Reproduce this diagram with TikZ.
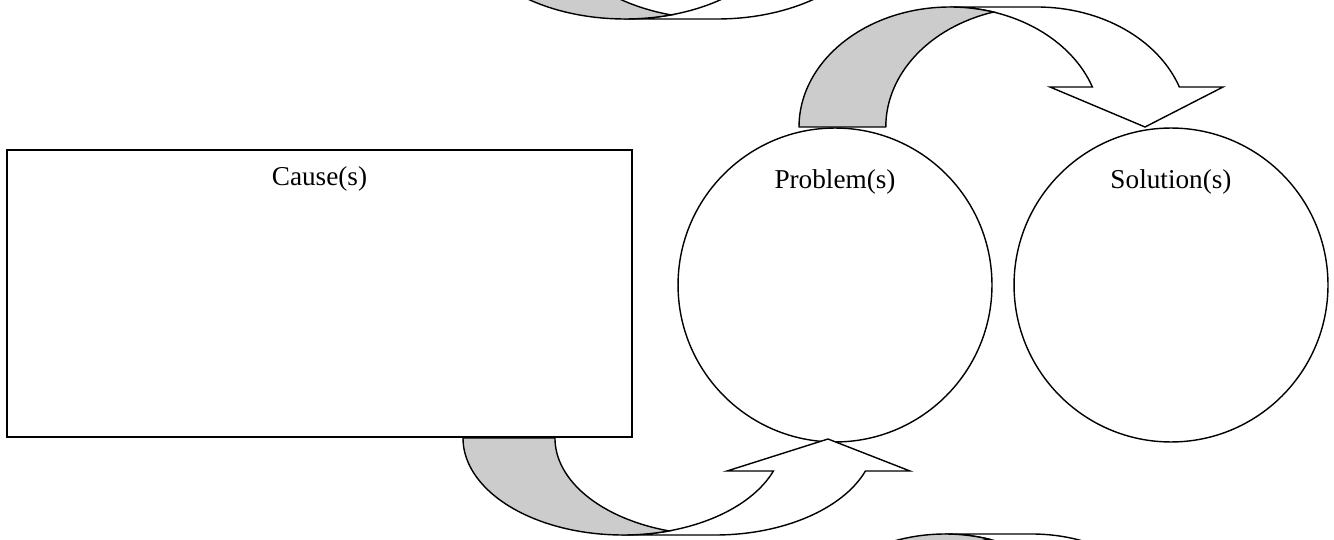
\documentclass[tikz,border=0pt]{standalone}
\usepackage{fontspec}
\setmainfont{Liberation Serif}
\usepackage{tikz}
\usetikzlibrary{positioning}
\definecolor{shade}{rgb}{0.8,0.8,0.8}

\begin{document}
\begin{tikzpicture}[
            x = 0.02cm, y = 0.02cm, % one unit = one pixel
            line join = miter,
            semithick
        ]

        \tikzstyle{box}=[draw, line width = 1pt, rectangle,
            minimum width = 12.5cm, minimum height = 5.74cm, inner sep = 0pt]
        \tikzstyle{blob}=[draw, line width = 0.8pt, circle,
            minimum size = 6.28cm, inner sep = 0pt]
        \tikzstyle{caption}=[inner sep = 0pt, font = \fontsize{15.5}{18}\selectfont]
        \tikzstyle{band}=[draw, line width = 0.8pt]

        \useasboundingbox (0,0) rectangle (1334,-540);
        \clip (0,0) rectangle (1334,-540);

        % boxes
        \node[box] (C) at (319.5,-293.5) {};
        \node[caption] (CT) [below = 0.34cm of C.north] {Cause(s)};

        \node[blob] (P) at (835,-285) {};
        \node[caption] (PT) [below = 0.84cm of P.north] {Problem(s)};

        \node[blob] (S) at (1171,-285) {};
        \node[caption] (ST) [below = 0.84cm of S.north] {Solution(s)};

        % curved arrows, pointing down
        \foreach \sx/\sy in {0/0, -5/-527} {
          \begin{scope}[shift = {(\sx,\sy)}]
            % front band
            \path[band, fill = white] (950,-7) -- (1037,-7)
              arc[start angle = 90, end angle = 19.47, x radius = 151, y radius = 120]
              -- (1223,-87) -- (1145,-127) -- (1050,-87) -- (1092.4,-87)
              arc[start angle = 19.47, end angle = 90, x radius = 151, y radius = 120]
              -- cycle;
            % back band
            \path[band, fill = shade] (799,-127)
              arc[start angle = 180, end angle = 73.3, x radius = 151, y radius = 120]
              arc[start angle = 106.7, end angle = 180, x radius = 151, y radius = 120]
              -- cycle;
          \end{scope}
        }

        % curved arrows, pointing up
        \foreach \sx/\sy in {0/0, 2/516} {
          \begin{scope}[shift = {(\sx,\sy)}]
            % front band
            \path[band, fill = white] (623,-535) -- (715,-535)
              arc[start angle = 270, end angle = 340.1, x radius = 160, y radius = 97]
              -- (910,-471) -- (828,-439) -- (727,-471) -- (773.4,-471)
              arc[start angle = 340.1, end angle = 270, x radius = 160, y radius = 97]
              -- cycle;
            % back band
            \path[band, fill = shade] (463,-438)
              arc[start angle = 180, end angle = 286.7, x radius = 160, y radius = 97]
              arc[start angle = 253.3, end angle = 180, x radius = 160, y radius = 97]
              -- cycle;
          \end{scope}
        }

\end{tikzpicture}
\end{document}
